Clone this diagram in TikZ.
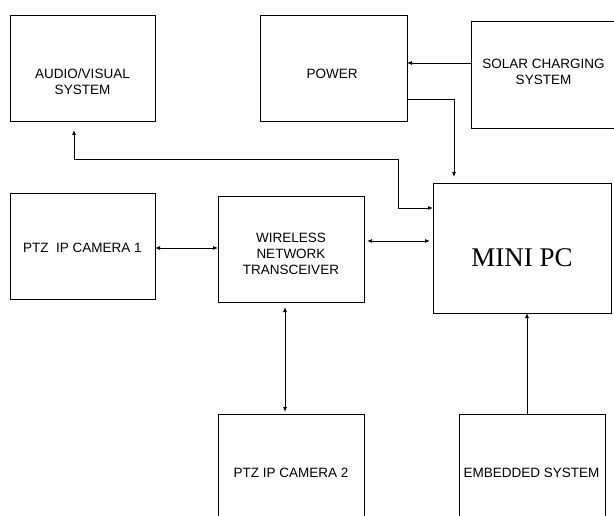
\documentclass[tikz,border=0pt]{standalone}
\usepackage{fontspec}
\setmainfont{Liberation Sans}
\newfontfamily\timesfont{Liberation Serif}
\usetikzlibrary{arrows.meta}
\begin{document}
\begin{tikzpicture}[x=1pt,y=-1pt,
  box/.style={draw, line width=0.8pt, inner sep=0pt, outer sep=0pt},
  txt/.style={font=\fontsize{13.5}{16}\selectfont, align=center, inner sep=0pt},
  bigtxt/.style={font=\timesfont\fontsize{27}{30}\selectfont, inner sep=0pt},
  tip/.tip={Latex[length=5pt,width=4pt]},
  link/.style={line width=0.8pt, -tip},
  dlink/.style={line width=0.8pt, tip-tip}]
\useasboundingbox (0,0) rectangle (614,516);
% boxes
\node[box, minimum width=145pt, minimum height=106pt] (av) at (82.5,68) {};
\node[box, minimum width=147pt, minimum height=106pt] (power) at (333.5,68) {};
\node[box, minimum width=149pt, minimum height=107pt] (solar) at (545.5,74.5) {};
\node[box, minimum width=145pt, minimum height=106pt] (cam1) at (82.5,246) {};
\node[box, minimum width=146pt, minimum height=106pt] (wnt) at (291,249) {};
\node[box, minimum width=178pt, minimum height=130pt] (mini) at (522,248) {};
\node[box, minimum width=146pt, minimum height=106pt] (cam2) at (291,467) {};
\node[box, minimum width=146pt, minimum height=106pt] (emb) at (532,467) {};
% labels
\node[txt] (avt) at (82.5,81.5) {AUDIO/VISUAL\\SYSTEM};
\node[txt] (powert) at (332,74) {POWER};
\node[txt] (solart) at (543.5,71.5) {SOLAR CHARGING\\SYSTEM};
\node[txt] (cam1t) at (82.5,248) {PTZ\ \ IP CAMERA 1};
\node[txt] (wntt) at (291,254) {WIRELESS\\NETWORK\\TRANSCEIVER};
\node[bigtxt] (minit) at (522,258) {MINI PC};
\node[txt] (cam2t) at (291,473) {PTZ IP CAMERA 2};
\node[txt] (embt) at (531.5,473) {EMBEDDED SYSTEM};
% helper coordinates
\coordinate (s1) at (440,63);
\coordinate (p1) at (454,99);
\coordinate (a1) at (74,159);
\coordinate (a2) at (398,208);
\coordinate (w1) at (400,241);
\coordinate (c1) at (190,248);
\coordinate (v1) at (285,360);
\coordinate (e1) at (527,360);
% connectors
\draw[link] (s1 -| solar.west) -- (s1 -| power.east);
\draw[link, shorten >=6pt] (p1 -| power.east) -| (p1 |- mini.north);
\draw[dlink, shorten <=9pt] (a1 |- av.south) -- (a1) -| (a2) -- (a2 -| mini.west);
\draw[dlink, shorten <=3pt, shorten >=3pt] (w1 -| wnt.east) -- (w1 -| mini.west);
\draw[dlink] (c1 -| cam1.east) -- (c1 -| wnt.west);
\draw[dlink, shorten <=5pt, shorten >=2pt] (v1 |- wnt.south) -- (v1 |- cam2.north);
\draw[link] (e1 |- emb.north) -- (e1 |- mini.south);
\end{tikzpicture}
\end{document}
